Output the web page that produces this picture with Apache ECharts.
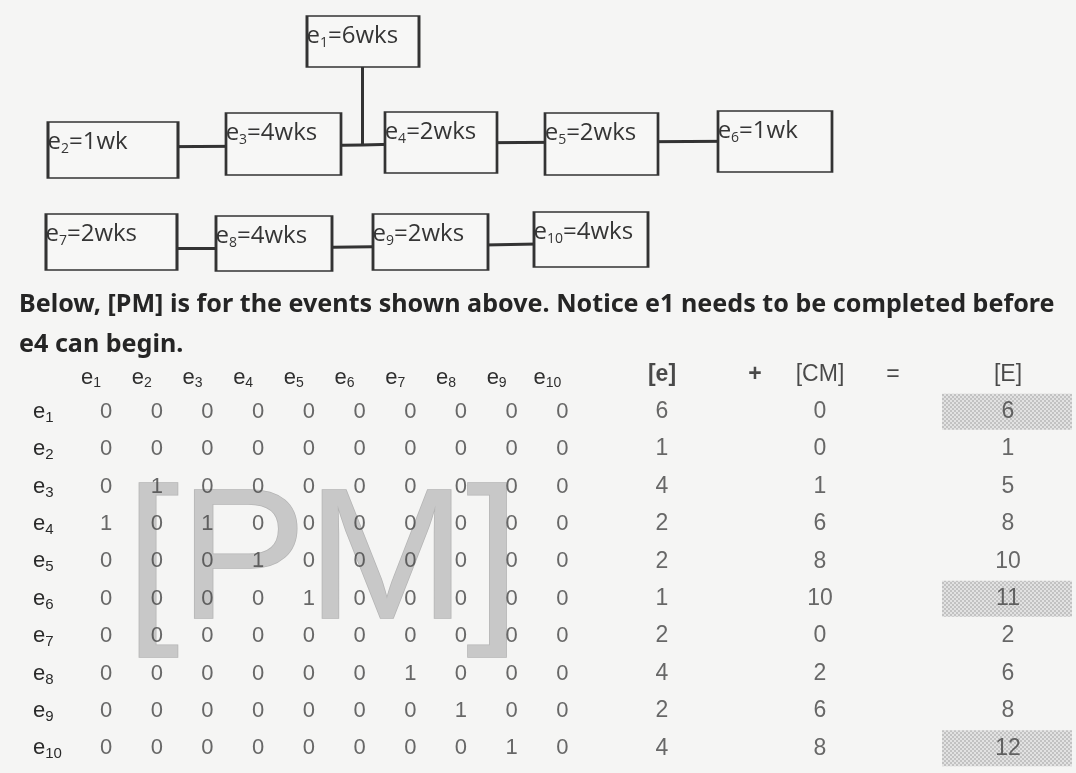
<!DOCTYPE html>
<html><head><meta charset="utf-8">
<script src="https://cdn.jsdelivr.net/npm/echarts@6/dist/echarts.min.js"></script>
<style>html,body{margin:0;padding:0;background:#f5f5f4}#c{width:1076px;height:773px}</style>
</head><body><div id="c"></div>
<script>
// ---------------- data ----------------
const events = ['e1','e2','e3','e4','e5','e6','e7','e8','e9','e10'];
const durations = [6,1,4,2,2,1,2,4,2,4];
const durationUnits = ['wks','wk','wks','wks','wks','wk','wks','wks','wks','wks'];
// precedence links of the network diagram ('J' = junction where e1 joins the e3 -> e4 line)
const networkLinks = [['e2','e3'],['e3','J'],['J','e4'],['e1','J'],['e4','e5'],['e5','e6'],['e7','e8'],['e8','e9'],['e9','e10']];
const pm = [
  [0,0,0,0,0,0,0,0,0,0],
  [0,0,0,0,0,0,0,0,0,0],
  [0,1,0,0,0,0,0,0,0,0],
  [1,0,1,0,0,0,0,0,0,0],
  [0,0,0,1,0,0,0,0,0,0],
  [0,0,0,0,1,0,0,0,0,0],
  [0,0,0,0,0,0,0,0,0,0],
  [0,0,0,0,0,0,1,0,0,0],
  [0,0,0,0,0,0,0,1,0,0],
  [0,0,0,0,0,0,0,0,1,0]
];
const eVec  = [6,1,4,2,2,1,2,4,2,4];
const cmVec = [0,0,1,6,8,10,0,2,6,8];
const EVec  = [6,1,5,8,10,11,2,6,8,12];
const highlighted = ['e1','e6','e10'];
const rightHeaders = ['[e]','+','[CM]','=','[E]'];
const noteLines = ['Below, [PM] is for the events shown above. Notice e1 needs to be completed before','e4 can begin.'];
const watermark = '[PM]';

// ---------------- layout (positions / sizes / styles) ----------------
const PM_GRID = {left: 80.7, top: 393, width: 507, height: 374};
const ROW_STEP = PM_GRID.height / events.length;
const COL_X = {'[e]': 662, '+': 755, '[CM]': 820, '=': 893, '[E]': 1008};
const HL = {center: 1007, width: 130, frac: 0.96};
const WM = {dx: -11.5, dy: -13, size: 186, scaleX: 1.03};
const BOXES = { // left, top, right, bottom, y of connecting line
  e1: [307, 16, 419, 67, null],
  e2: [48, 122, 178, 178, 147],
  e3: [226, 113, 341, 175, 146],
  e4: [385, 112, 497, 173, 143],
  e5: [545, 113, 658, 175, 142],
  e6: [718, 111, 832, 172, 141],
  e7: [46, 214, 177, 270, 248],
  e8: [216, 216, 332, 271, 248],
  e9: [373, 214, 488, 270, 246],
  e10: [534, 212, 648, 267, 243]
};
const JUNCTION = [362, 145];
const E1_LINE_X = 362;
const INK = '#333';
const SANS = '"Liberation Sans", Arial, sans-serif';
const BOXFONT = '"Open Sans", sans-serif';
const NOTE_FONT = '"Noto Sans", "Liberation Sans", sans-serif';
const NOTE_WIDTH = 1036;

// fit the note's font size so that its first line spans NOTE_WIDTH
function fitFontSize(text, family, weight, width) {
  const g = document.createElement('canvas').getContext('2d');
  g.font = weight + ' 100px ' + family;
  return 100 * width / g.measureText(text).width;
}
const noteSize = fitFontSize(noteLines[0], NOTE_FONT, 'bold', NOTE_WIDTH);

function dotPattern(bg, dot) {
  const c = document.createElement('canvas');
  c.width = 4; c.height = 4;
  const g = c.getContext('2d');
  g.fillStyle = bg; g.fillRect(0, 0, 4, 4);
  g.fillStyle = dot; g.fillRect(0, 0, 2, 2); g.fillRect(2, 2, 2, 2);
  return c;
}
const hlFill = {image: dotPattern('#e2e2e2', '#c2c2c2'), repeat: 'repeat'};

const chart = echarts.init(document.getElementById('c'));

// network nodes
const nodes = events.map((ev, i) => {
  const b = BOXES[ev];
  const cx = (b[0] + b[2]) / 2, cy = (b[1] + b[3]) / 2;
  const ax = ev === 'e1' ? E1_LINE_X : cx;
  const ay = b[4] === null ? cy : b[4];
  return {
    name: ev,
    value: [ax, ay],
    symbolSize: [b[2] - b[0], b[3] - b[1]],
    symbolOffset: [cx - ax, cy - ay],
    label: {formatter: '{m|e}{s|' + ev.slice(1) + '}{m|=' + durations[i] + durationUnits[i] + '}'}
  };
});
nodes.push({name: 'J', value: JUNCTION, symbolSize: 0, label: {show: false}});

const subRich = (main, sub, pad, color, family, weight) => ({
  m: {fontSize: main, color: color, fontFamily: family, fontWeight: weight || 'normal'},
  s: {fontSize: sub, color: color, fontFamily: family, padding: [pad, 0, 0, 0], fontWeight: weight || 'normal'}
});

const option = {
  animation: false,
  backgroundColor: '#f5f5f4',
  title: {
    text: noteLines.join('\n'),
    left: 19, top: 285, padding: 0,
    textStyle: {fontFamily: NOTE_FONT, fontSize: noteSize, fontWeight: 'bold', color: '#252525', lineHeight: 40}
  },
  grid: [
    Object.assign({outerBoundsMode: 'none'}, PM_GRID),
    {left: 0, width: 1076, top: PM_GRID.top - ROW_STEP, height: PM_GRID.height + ROW_STEP, outerBoundsMode: 'none'},
    {left: 0, width: 1076, top: 0, height: 773, outerBoundsMode: 'none'}
  ],
  xAxis: [
    {gridIndex: 0, type: 'category', data: events, position: 'top',
     axisLine: {show: false}, axisTick: {show: false}, splitLine: {show: false},
     axisLabel: {interval: 0, margin: 3, padding: [0, 30, 0, 0],
       formatter: v => '{m|e}{s|' + v.slice(1) + '}', rich: subRich(22, 14, 11, '#2e2e2e', SANS)}},
    {gridIndex: 1, type: 'value', min: 0, max: 1076, show: false},
    {gridIndex: 2, type: 'value', min: 0, max: 1076, show: false}
  ],
  yAxis: [
    {gridIndex: 0, type: 'category', data: events, inverse: true,
     axisLine: {show: false}, axisTick: {show: false}, splitLine: {show: false},
     axisLabel: {interval: 0, align: 'left', margin: PM_GRID.left - 33,
       formatter: v => '{m|e}{s|' + v.slice(1) + '}', rich: subRich(22, 15, 12, '#2a2a2a', SANS)}},
    {gridIndex: 1, type: 'value', min: -1.5, max: events.length - 0.5, inverse: true, show: false},
    {gridIndex: 2, type: 'value', min: 0, max: 773, inverse: true, show: false}
  ],
  series: [
    {
      type: 'graph', coordinateSystem: 'cartesian2d', xAxisIndex: 2, yAxisIndex: 2,
      symbol: 'rect', z: 3,
      data: nodes,
      links: networkLinks.map(l => ({source: l[0], target: l[1]})),
      lineStyle: {color: INK, width: 3, opacity: 1, curveness: 0},
      itemStyle: {color: '#f7f7f6', borderColor: INK, borderWidth: 2},
      label: {show: true, position: [1, 7], rich: {
        m: {fontSize: 24, fontFamily: BOXFONT, color: '#353535', lineHeight: 28},
        s: {fontSize: 14, fontFamily: BOXFONT, color: '#353535', padding: [13, 0, 0, 0]}
      }},
      emphasis: {disabled: true}
    },
    {
      // [PM] watermark behind the matrix, centred on the matrix grid
      type: 'custom', xAxisIndex: 0, yAxisIndex: 0, z: 1, silent: true,
      data: [[0, 0]],
      renderItem: (params) => {
        const cs = params.coordSys;
        return {type: 'text', x: cs.x + cs.width / 2 + WM.dx, y: cs.y + cs.height / 2 + WM.dy,
                scaleX: WM.scaleX,
                style: {text: watermark, font: WM.size + 'px ' + SANS, fill: '#c8c8c8',
                        stroke: '#b4b4b4', lineWidth: 1.5, align: 'center', verticalAlign: 'middle'}};
      }
    },
    {
      type: 'scatter', xAxisIndex: 0, yAxisIndex: 0, symbolSize: 1, itemStyle: {color: 'rgba(0,0,0,0)'}, z: 5,
      data: pm.flatMap((row, i) => row.map((v, j) => [j, i, v])),
      label: {show: true, position: 'inside', formatter: p => String(p.value[2]),
              fontFamily: SANS, fontSize: 22, color: '#444'},
      emphasis: {disabled: true}, silent: true
    },
    {
      type: 'custom', xAxisIndex: 1, yAxisIndex: 1, z: 1, silent: true,
      data: highlighted.map(ev => [HL.center, events.indexOf(ev)]),
      renderItem: (params, api) => {
        const c = api.coord([api.value(0), api.value(1)]);
        const h = api.size([0, 1])[1] * HL.frac;
        return {type: 'rect', shape: {x: c[0] - HL.width / 2, y: c[1] - h / 2, width: HL.width, height: h},
                style: {fill: hlFill}};
      }
    },
    ...[['[e]', eVec], ['[CM]', cmVec], ['[E]', EVec]].map(([key, vec]) => ({
      type: 'scatter', xAxisIndex: 1, yAxisIndex: 1, symbolSize: 1, itemStyle: {color: 'rgba(0,0,0,0)'}, z: 5, silent: true,
      data: vec.map((v, i) => [COL_X[key], i, v]),
      label: {show: true, position: 'inside', formatter: p => String(p.value[2]),
              fontFamily: SANS, fontSize: 23, color: '#444'}
    })),
    {
      type: 'scatter', xAxisIndex: 1, yAxisIndex: 1, symbolSize: 1, itemStyle: {color: 'rgba(0,0,0,0)'}, z: 5, silent: true,
      data: rightHeaders.map(h => ({value: [COL_X[h], -1, h],
        label: {fontWeight: (h === '[e]' || h === '+') ? 'bold' : 'normal'}})),
      label: {show: true, position: 'inside', formatter: p => p.value[2],
              fontFamily: SANS, fontSize: 23, color: '#1e1e1e'}
    }
  ]
};
chart.setOption(option);
</script>
</body></html>
